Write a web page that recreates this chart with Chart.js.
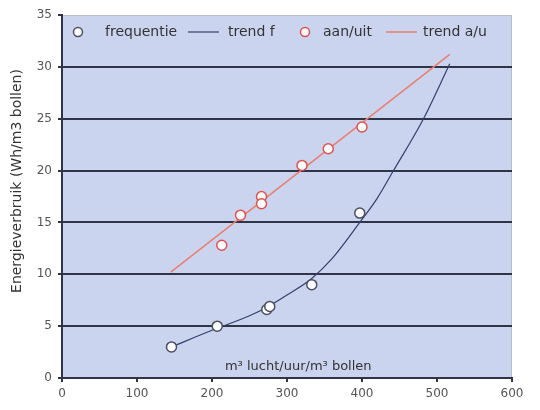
<!DOCTYPE html>
<html>
<head>
<meta charset="utf-8">
<script src="https://cdn.jsdelivr.net/npm/chart.js@4"></script>
<style>
  body { margin: 0; background: #fff; }
  #wrap { width: 540px; height: 410px; }
</style>
</head>
<body>
<div id="wrap"><canvas id="myChart" width="540" height="410"></canvas></div>
<script>
// data
const freqX = [146, 207, 273, 277, 333, 397];
const freqY = [3.0, 5.0, 6.6, 6.9, 9.0, 15.9];
const trendFX = [146, 200, 250, 275, 300, 333, 360, 397, 420, 442, 482, 517];
const trendFY = [3.0, 4.6, 6.0, 6.9, 8.0, 9.6, 11.5, 15.0, 17.3, 20.0, 25.0, 30.3];
const aanX = [213, 238, 266, 266, 320, 355, 400];
const aanY = [12.8, 15.7, 17.5, 16.8, 20.5, 22.1, 24.2];
const trendAX = [145, 517];
const trendAY = [10.2, 31.2];
const xTicks = [0, 100, 200, 300, 400, 500, 600];
const yTicks = [0, 5, 10, 15, 20, 25, 30, 35];

const pts = (xs, ys) => xs.map((x, i) => ({ x: x, y: ys[i] }));

const FONT = "'DejaVu Sans', Arial, sans-serif";
Chart.defaults.font.family = FONT;
Chart.defaults.font.size = 12;
Chart.defaults.color = "#555";

// offsets of legend entries from the plot's left edge (marker/line start, text start)
const legendSlots = [[16, 43], [126, 166], [243, 261], [324, 361]];

// plot background, legend in the plot, axis titles
const plotBg = {
  id: "plotBg",
  beforeDraw(chart) {
    const a = chart.chartArea, c = chart.ctx;
    c.save();
    c.fillStyle = "#cbd4ee";
    c.fillRect(a.left, a.top, a.right - a.left, a.bottom - a.top);
    c.strokeStyle = "#b8bccb";
    c.lineWidth = 1;
    c.strokeRect(a.left + 0.5, a.top + 0.5, a.right - a.left - 1, a.bottom - a.top - 1);
    c.restore();
  },
  afterDraw(chart) {
    const a = chart.chartArea, c = chart.ctx;
    c.save();
    c.fillStyle = "#333";
    c.textBaseline = "middle";

    // x title sits inside the plot
    c.font = "13px " + FONT;
    c.textAlign = "center";
    c.fillText("m³ lucht/uur/m³ bollen", chart.scales.x.getPixelForValue(315), a.bottom - 11);

    // y title
    c.save();
    c.font = "14px " + FONT;
    c.translate(17, 181);
    c.rotate(-Math.PI / 2);
    c.fillText("Energieverbruik (Wh/m3 bollen)", 0, 0);
    c.restore();

    // legend
    c.font = "14px " + FONT;
    c.textAlign = "left";
    const ly = a.top + 17;
    chart.data.datasets.forEach((ds, i) => {
      const [mx, tx] = legendSlots[i];
      if (ds.showLine) {
        c.strokeStyle = ds.borderColor;
        c.lineWidth = ds.borderWidth;
        c.beginPath();
        c.moveTo(a.left + mx, ly);
        c.lineTo(a.left + mx + 31, ly);
        c.stroke();
      } else {
        c.fillStyle = "#fff";
        c.strokeStyle = ds.borderColor;
        c.lineWidth = 1.5;
        c.beginPath();
        c.arc(a.left + mx, ly, 4.5, 0, Math.PI * 2);
        c.fill();
        c.stroke();
      }
      c.fillStyle = "#333";
      c.fillText(ds.label, a.left + tx, ly);
    });
    c.restore();
  }
};

new Chart(document.getElementById("myChart"), {
  type: "scatter",
  data: {
    datasets: [
      {
        label: "frequentie",
        data: pts(freqX, freqY),
        pointStyle: "circle",
        pointRadius: 5,
        pointBorderWidth: 1.5,
        borderColor: "#4a4f5e",
        backgroundColor: "#ffffff"
      },
      {
        label: "trend f",
        data: pts(trendFX, trendFY),
        showLine: true,
        pointRadius: 0,
        borderColor: "#33406e",
        backgroundColor: "#33406e",
        borderWidth: 1.2,
        cubicInterpolationMode: "monotone"
      },
      {
        label: "aan/uit",
        data: pts(aanX, aanY),
        pointStyle: "circle",
        pointRadius: 5,
        pointBorderWidth: 1.5,
        borderColor: "#e0504e",
        backgroundColor: "#ffffff"
      },
      {
        label: "trend a/u",
        data: pts(trendAX, trendAY),
        showLine: true,
        pointRadius: 0,
        borderColor: "#ea7f70",
        backgroundColor: "#ea7f70",
        borderWidth: 1.5
      }
    ]
  },
  options: {
    responsive: false,
    animation: false,
    layout: { padding: { top: 15, right: 28, left: 0, bottom: 0 } },
    plugins: {
      legend: { display: false },
      tooltip: { enabled: false }
    },
    scales: {
      x: {
        type: "linear",
        min: 0,
        max: 600,
        afterBuildTicks: (s) => { s.ticks = xTicks.map(v => ({ value: v })); },
        afterFit: (s) => { s.height = 32; },
        ticks: { color: "#555", padding: 5, font: { size: 12 } },
        grid: {
          drawOnChartArea: false,
          drawTicks: true,
          tickLength: 4,
          color: "#2f3446",
          lineWidth: 2
        },
        border: { color: "#2f3446", width: 2 }
      },
      y: {
        min: 0,
        max: 35,
        afterBuildTicks: (s) => { s.ticks = yTicks.map(v => ({ value: v })); },
        afterFit: (s) => { s.width = 62; },
        ticks: { color: "#555", padding: 6, font: { size: 12 } },
        grid: {
          color: (c) => (c.tick && (c.tick.value === 0 || c.tick.value === 35)) ? "rgba(0,0,0,0)" : "#2f3446",
          lineWidth: 2,
          tickColor: "#2f3446",
          tickLength: 4
        },
        border: { color: "#2f3446", width: 2 }
      }
    }
  },
  plugins: [plotBg]
});
</script>
</body>
</html>
